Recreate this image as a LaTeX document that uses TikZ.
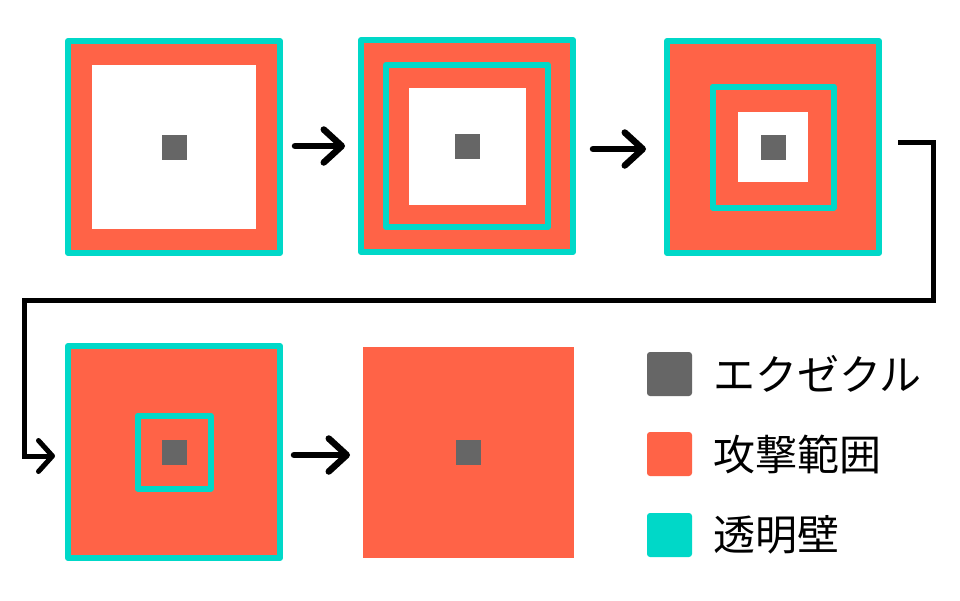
\documentclass[tikz,border=0pt]{standalone}
\usepackage{fontspec}
\newfontfamily\jpfont{Noto Sans CJK JP}
\usetikzlibrary{arrows.meta}
\definecolor{atk}{HTML}{FF6347}
\definecolor{wallc}{HTML}{00D8C8}
\definecolor{exc}{HTML}{666666}
\begin{document}
\begin{tikzpicture}[x=1pt,y=-1pt,
  panel/.style={draw=wallc, line width=6pt, fill=atk, minimum size=212pt, inner sep=0pt, line join=round},
  bare/.style={fill=atk, minimum size=211pt, inner sep=0pt, outer sep=0pt},
  wallbox/.style={draw=wallc, line width=6pt, fill=atk, inner sep=0pt, line join=round},
  hole/.style={fill=white, inner sep=0pt, outer sep=0pt},
  core/.style={fill=exc, minimum size=25pt, inner sep=0pt, outer sep=0pt},
  arr/.style={line width=6.5pt, line cap=round, line join=round, -{Straight Barb[length=18pt, width=33pt, line cap=round, line join=round]}},
  link/.style={line width=5pt, line join=miter, -{Straight Barb[length=14pt, width=31pt, line cap=round, line join=round]}},
  key/.style={minimum width=45pt, minimum height=44pt, inner sep=0pt, rounded corners=3pt},
  lbl/.style={anchor=west, inner sep=0pt, font=\jpfont\fontsize{42pt}{42pt}\selectfont}
]
\fill[white] (0,0) rectangle (960,600);
\useasboundingbox (0,0) rectangle (960,600);
% panel 1
\node[panel] (p1) at (174,147) {};
\node[hole, minimum size=164pt] (h1) at (p1.center) {};
\node[core] (c1) at (p1.center) {};
% panel 2
\node[panel] (p2) at (467,146) {};
\node[wallbox, minimum size=162pt] (w2) at (p2.center) {};
\node[hole, minimum size=117pt] (h2) at (p2.center) {};
\node[core] (c2) at (p2.center) {};
% panel 3
\node[panel] (p3) at (773,147) {};
\node[wallbox, minimum size=121pt] (w3) at (p3.center) {};
\node[hole, minimum size=70pt] (h3) at (p3.center) {};
\node[core] (c3) at (p3.center) {};
% panel 4
\node[panel] (p4) at (174,452) {};
\node[wallbox, minimum size=73pt] (w4) at (p4.center) {};
\node[core] (c4) at (p4.center) {};
% panel 5
\node[bare] (p5) at (468.5,452.5) {};
\node[core] (c5) at (p5.center) {};
% arrows
\coordinate (a1s) at (295,146);
\coordinate (a1e) at (345,146);
\draw[arr] (a1s) -- (a1e);
\coordinate (a2s) at (593,149);
\coordinate (a2e) at (646,149);
\draw[arr] (a2s) -- (a2e);
\coordinate (s3) at (898,142);
\coordinate (e4) at (55,456);
\draw[link] (s3) -- (933,142) -- (933,300) -- (24,300) -- (24,456) -- (e4);
\coordinate (a4s) at (294,455);
\coordinate (a4e) at (350,455);
\draw[arr] (a4s) -- (a4e);
% legend
\node[key, fill=exc] (k1) at (669.5,374) {};
\node[key, fill=atk] (k2) at (669.5,454) {};
\node[key, fill=wallc] (k3) at (669.5,535) {};
\node[lbl] (t1) at (713,374) {エクゼクル};
\node[lbl] (t2) at (713,454) {攻撃範囲};
\node[lbl] (t3) at (713,535) {透明壁};
\end{tikzpicture}
\end{document}
